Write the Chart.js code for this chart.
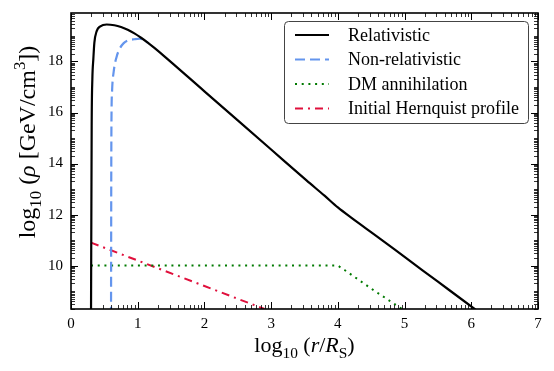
<!DOCTYPE html>
<html>
<head>
<meta charset="utf-8">
<script src="https://cdn.jsdelivr.net/npm/chart.js@4.4.1/dist/chart.umd.min.js"></script>
<style>
  body { margin: 0; background: #fff; }
  .box { width: 554px; height: 371px; position: relative; }
</style>
</head>
<body>
<div class="box"><canvas id="profile"></canvas></div>
<script>
/*------ data (log10 r/Rs , log10 rho) ------*/

var relX = [0.30, 0.31, 0.32, 0.335, 0.35, 0.385, 0.44, 0.535, 0.65, 0.75, 0.85, 0.95, 1.05, 1.15, 1.25, 1.4, 2.0, 3.0, 3.53, 3.8, 4.0, 4.2, 4.61, 5.0, 5.5, 6.05, 6.1];
var relY = [8.0, 15.5, 17.3, 18.1, 18.73, 19.19, 19.38, 19.45, 19.42, 19.35, 19.24, 19.1, 18.93, 18.74, 18.53, 18.2, 16.83, 14.55, 13.34, 12.74, 12.28, 11.88, 11.1, 10.34, 9.37, 8.3, 8.2];

var nonrelX = [0.60, 0.605, 0.615, 0.64, 0.68, 0.73, 0.79, 0.86, 0.95, 1.03, 1.1, 1.15];
var nonrelY = [8.0, 15.0, 16.8, 17.6, 18.15, 18.5, 18.72, 18.83, 18.87, 18.89, 18.83, 18.74];

var annX = [0.30, 4.0, 4.1, 4.5, 4.96];
var annY = [10.0, 10.0, 9.83, 9.1, 8.3];

var hernX = [0.30, 1.0, 2.0, 2.9];
var hernY = [10.9, 10.2, 9.2, 8.3];

var xTicks = [0, 1, 2, 3, 4, 5, 6, 7];
var yTicks = [10, 12, 14, 16, 18];

function pts(xs, ys) {
    return xs.map(function (x, i) { return { x: x, y: ys[i] }; });
}

var serif = "'Liberation Serif', 'DejaVu Serif', serif";

/*------ rich text with sub / superscripts ------*/

function runWidth(ctx, runs, size) {
    var w = 0;
    runs.forEach(function (r) {
        var s = r.s ? size * 0.7 : size;
        ctx.font = (r.i ? "italic " : "") + s + "px " + serif;
        w += ctx.measureText(r.t).width;
    });
    return w;
}

function drawRuns(ctx, runs, x, y, size) {
    var w = runWidth(ctx, runs, size);
    var cx = x - w / 2;
    ctx.textBaseline = "alphabetic";
    ctx.textAlign = "left";
    runs.forEach(function (r) {
        var s = r.s ? size * 0.7 : size;
        var dy = r.s == "sub" ? size * 0.25 : (r.s == "sup" ? -size * 0.4 : 0);
        ctx.font = (r.i ? "italic " : "") + s + "px " + serif;
        ctx.fillText(r.t, cx, y + dy);
        cx += ctx.measureText(r.t).width;
    });
}

var xTitle = [{ t: "log" }, { t: "10", s: "sub" }, { t: " (" }, { t: "r", i: 1 }, { t: "/" }, { t: "R", i: 1 }, { t: "S", s: "sub" }, { t: ")" }];
var yTitle = [{ t: "log" }, { t: "10", s: "sub" }, { t: " (" }, { t: "ρ", i: 1 }, { t: " [GeV/cm" }, { t: "3", s: "sup" }, { t: "])" }];

/*------ frame, inward ticks, titles, legend ------*/

var framePlugin = {
    id: "frame",
    afterDraw: function (chart) {
        var ctx = chart.ctx;
        var a = chart.chartArea;
        var xs = chart.scales.x, ys = chart.scales.y;
        ctx.save();
        ctx.strokeStyle = "#000";

        // minor ticks at n + log10(k)
        ctx.lineWidth = 0.8;
        ctx.beginPath();
        for (var n = 0; n < 7; n++) {
            for (var k = 2; k <= 9; k++) {
                var px = Math.round(xs.getPixelForValue(n + Math.log10(k))) + 0.5;
                ctx.moveTo(px, a.bottom); ctx.lineTo(px, a.bottom - 4);
                ctx.moveTo(px, a.top); ctx.lineTo(px, a.top + 4);
            }
        }
        for (var m = 8; m < 20; m++) {
            for (var j = 1; j <= 9; j++) {
                var v = m + Math.log10(j);
                if (j == 1 && m % 2 == 0) continue;
                if (v < ys.min || v > ys.max) continue;
                var py = Math.round(ys.getPixelForValue(v)) + 0.5;
                ctx.moveTo(a.left, py); ctx.lineTo(a.left + 4, py);
                ctx.moveTo(a.right, py); ctx.lineTo(a.right - 4, py);
            }
        }
        ctx.stroke();

        // major ticks
        ctx.lineWidth = 1;
        ctx.beginPath();
        xTicks.forEach(function (t) {
            var px = Math.round(xs.getPixelForValue(t)) + 0.5;
            ctx.moveTo(px, a.bottom); ctx.lineTo(px, a.bottom - 7);
            ctx.moveTo(px, a.top); ctx.lineTo(px, a.top + 7);
        });
        yTicks.forEach(function (t) {
            var py = Math.round(ys.getPixelForValue(t)) + 0.5;
            ctx.moveTo(a.left, py); ctx.lineTo(a.left + 7, py);
            ctx.moveTo(a.right, py); ctx.lineTo(a.right - 7, py);
        });
        ctx.stroke();

        // frame
        ctx.lineWidth = 1.6;
        ctx.strokeRect(a.left, a.top, a.right - a.left, a.bottom - a.top);

        // axis titles
        ctx.fillStyle = "#000";
        drawRuns(ctx, xTitle, (a.left + a.right) / 2, 352, 22);
        ctx.save();
        ctx.translate(35, 142);
        ctx.rotate(-Math.PI / 2);
        drawRuns(ctx, yTitle, 0, 0, 24);
        ctx.restore();

        // legend
        var lx = a.right - 254, ly = a.top + 8, lw = 244, lh = 102;
        ctx.beginPath();
        ctx.roundRect(lx + 0.5, ly + 0.5, lw, lh, 4);
        ctx.fillStyle = "#fff";
        ctx.fill();
        ctx.lineWidth = 1;
        ctx.strokeStyle = "#444";
        ctx.stroke();
        chart.data.datasets.forEach(function (ds, i) {
            var ry = ly + 14 + i * 24.5;
            ctx.beginPath();
            ctx.setLineDash(ds.borderDash || []);
            ctx.strokeStyle = ds.borderColor;
            ctx.lineWidth = ds.borderWidth;
            ctx.moveTo(lx + 11, ry);
            ctx.lineTo(lx + 45, ry);
            ctx.stroke();
            ctx.setLineDash([]);
            ctx.fillStyle = "#000";
            ctx.font = "18px " + serif;
            ctx.textAlign = "left";
            ctx.textBaseline = "middle";
            ctx.fillText(ds.label, lx + 64, ry + 1);
        });
        ctx.restore();
    }
};

/*------ chart ------*/

const ctx = document.getElementById("profile").getContext("2d");
const profile = new Chart(ctx, {
    type: "scatter",
    data: {
        datasets: [{
            label: "Relativistic",
            data: pts(relX, relY),
            borderColor: "#000000",
            borderWidth: 2.2,
            cubicInterpolationMode: "monotone"
        }, {
            label: "Non-relativistic",
            data: pts(nonrelX, nonrelY),
            borderColor: "#6495ed",
            borderWidth: 2.2,
            borderDash: [10, 5],
            cubicInterpolationMode: "monotone"
        }, {
            label: "DM annihilation",
            data: pts(annX, annY),
            borderColor: "#007a00",
            borderWidth: 2,
            borderDash: [2, 4.7]
        }, {
            label: "Initial Hernquist profile",
            data: pts(hernX, hernY),
            borderColor: "#e0103c",
            borderWidth: 2,
            borderDash: [8, 5, 2, 5]
        }]
    },
    options: {
        responsive: true,
        maintainAspectRatio: false,
        animation: false,
        showLine: true,
        elements: { point: { radius: 0 } },
        layout: { padding: { top: 13, right: 16, left: 0, bottom: 0 } },
        plugins: {
            legend: { display: false },
            tooltip: { enabled: false }
        },
        scales: {
            x: {
                type: "linear",
                min: 0,
                max: 7,
                afterFit: function (s) { s.height = 62; s.paddingLeft = 0; s.paddingRight = 0; },
                afterBuildTicks: function (s) { s.ticks = xTicks.map(function (v) { return { value: v }; }); },
                grid: { display: false, drawTicks: false },
                border: { display: false },
                ticks: { padding: 6, color: "#000", font: { family: serif, size: 15 } }
            },
            y: {
                type: "linear",
                min: 8.3,
                max: 19.9,
                afterFit: function (s) { s.width = 71; s.paddingTop = 0; s.paddingBottom = 0; },
                afterBuildTicks: function (s) { s.ticks = yTicks.map(function (v) { return { value: v }; }); },
                grid: { display: false, drawTicks: false },
                border: { display: false },
                ticks: { padding: 8, color: "#000", font: { family: serif, size: 15 } }
            }
        }
    },
    plugins: [framePlugin]
});
</script>
</body>
</html>
